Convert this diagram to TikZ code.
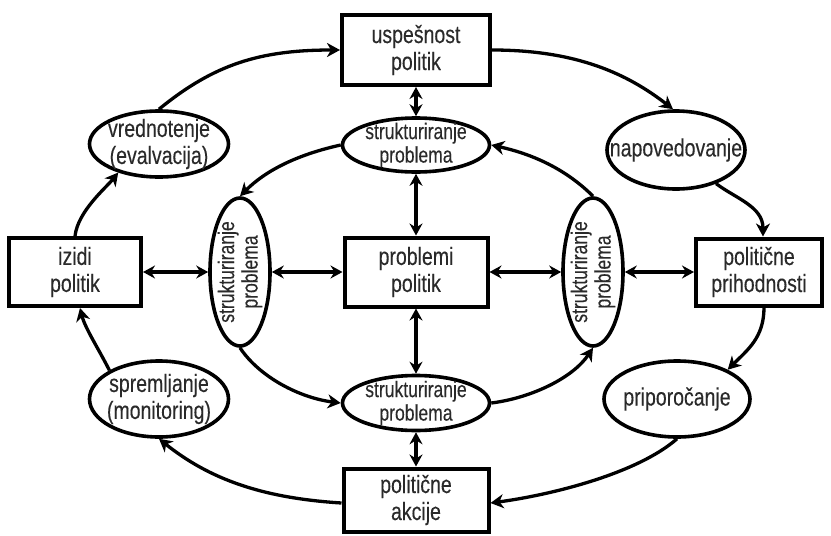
\documentclass[tikz,border=0pt]{standalone}
\usepackage{fontspec}
\setmainfont{Liberation Sans}[FakeStretch=0.78,FakeBold=0.2]
\usetikzlibrary{arrows.meta,shapes.geometric}
\definecolor{ink}{HTML}{2A2A2A}

\begin{document}
\begin{tikzpicture}[x=1pt,y=-1pt,
  box/.style={draw, line width=4pt, rectangle, inner sep=0pt, text=ink,
    align=center, font=\fontsize{25}{27}\selectfont},
  ell/.style={draw, line width=3.6pt, ellipse, inner sep=0pt},
  lbl/.style={text=ink, align=center, inner sep=0pt, font=\fontsize{25}{27}\selectfont},
  slbl/.style={text=ink, align=center, inner sep=0pt, font=\fontsize{22.5}{23.5}\selectfont},
  flow/.style={line width=3.3pt, -{Stealth[length=13pt,width=14pt,inset=4pt]}},
  both/.style={line width=3.3pt, {Stealth[length=12pt,width=13pt,inset=4pt]}-{Stealth[length=12pt,width=13pt,inset=4pt]}}
]
\useasboundingbox (0,0) rectangle (831,536);

% rectangles
\node[box, minimum width=148, minimum height=70] (usp)   at (416,50)  {uspešnost\\politik};
\node[box, minimum width=143, minimum height=69] (prob)  at (416,272) {problemi\\politik};
\node[box, minimum width=132, minimum height=68] (izidi) at (75,272)  {izidi\\politik};
\node[box, minimum width=126, minimum height=67] (prih)  at (759,272) {politične\\prihodnosti};
\node[box, minimum width=145, minimum height=63] (akc)   at (416,500) {politične\\akcije};

% inner ring of ellipses
\node[ell, minimum width=147, minimum height=54,
  label={[slbl]center:{strukturiranje\\problema}}] (topell) at (416,145) {};
\node[ell, minimum width=147, minimum height=55,
  label={[slbl]center:{strukturiranje\\problema}}] (botell) at (416,403) {};
\node[ell, minimum width=60, minimum height=148,
  label={[slbl,rotate=90]center:{strukturiranje\\problema}}] (lell) at (240,272) {};
\node[ell, minimum width=60, minimum height=148,
  label={[slbl,rotate=90]center:{strukturiranje\\problema}}] (rell) at (593,272) {};

% outer ring of ellipses
\node[ell, minimum width=139, minimum height=66,
  label={[lbl]center:{vrednotenje\\(evalvacija)}}] (vred) at (159,144) {};
\node[ell, minimum width=139, minimum height=76,
  label={[lbl]center:{spremljanje\\(monitoring)}}] (spr) at (159,399) {};
\node[ell, minimum width=138, minimum height=78,
  label={[lbl]center:{napovedovanje}}] (nap) at (676,150) {};
\node[ell, minimum width=146, minimum height=76,
  label={[lbl]center:{priporočanje}}] (prip) at (677,399) {};

% outer cycle
\draw[flow] (vred.north) .. controls +(55,-45) and +(-80,0) .. (usp.west);
\draw[flow] (usp.east) .. controls +(85,0) and +(-45,-35) .. ([xshift=-3pt]nap.north);
\draw[flow] (nap.-40) .. controls +(20,15) and +(0,-30) .. ([xshift=4pt]prih.north);
\draw[flow] ([xshift=5pt]prih.south) .. controls +(0,30) and +(20,-20) .. (prip.30);
\draw[flow] (prip.south) .. controls +(-40,35) and +(60,-8) .. ([yshift=-3pt]akc.east);
\draw[flow] ([yshift=-3pt]akc.west) .. controls +(-80,-5) and +(50,40) .. (spr.south);
\draw[flow] (spr.150) .. controls +(-10,-20) and +(5,20) .. ([xshift=5pt]izidi.south);
\draw[flow] (izidi.north) .. controls +(3,-25) and +(-12,15) .. (vred.-145);

% inner cycle
\draw[flow] (topell.west) .. controls +(-45,10) and +(25,-25) .. (lell.north);
\draw[flow] (lell.south) .. controls +(20,30) and +(-40,-5) .. (botell.west);
\draw[flow] (botell.east) .. controls +(40,-5) and +(-20,30) .. (rell.south);
\draw[flow] (rell.north) .. controls +(-25,-25) and +(45,10) .. (topell.east);

% two-way links
\draw[both] (izidi.east) -- (lell.west);
\draw[both] (lell.east) -- (prob.west);
\draw[both] (prob.east) -- (rell.west);
\draw[both] (rell.east) -- (prih.west);
\draw[both] (usp.south) -- (topell.north);
\draw[both] (topell.south) -- (prob.north);
\draw[both] (prob.south) -- (botell.north);
\draw[both] (botell.south) -- (akc.north);
\end{tikzpicture}
\end{document}
